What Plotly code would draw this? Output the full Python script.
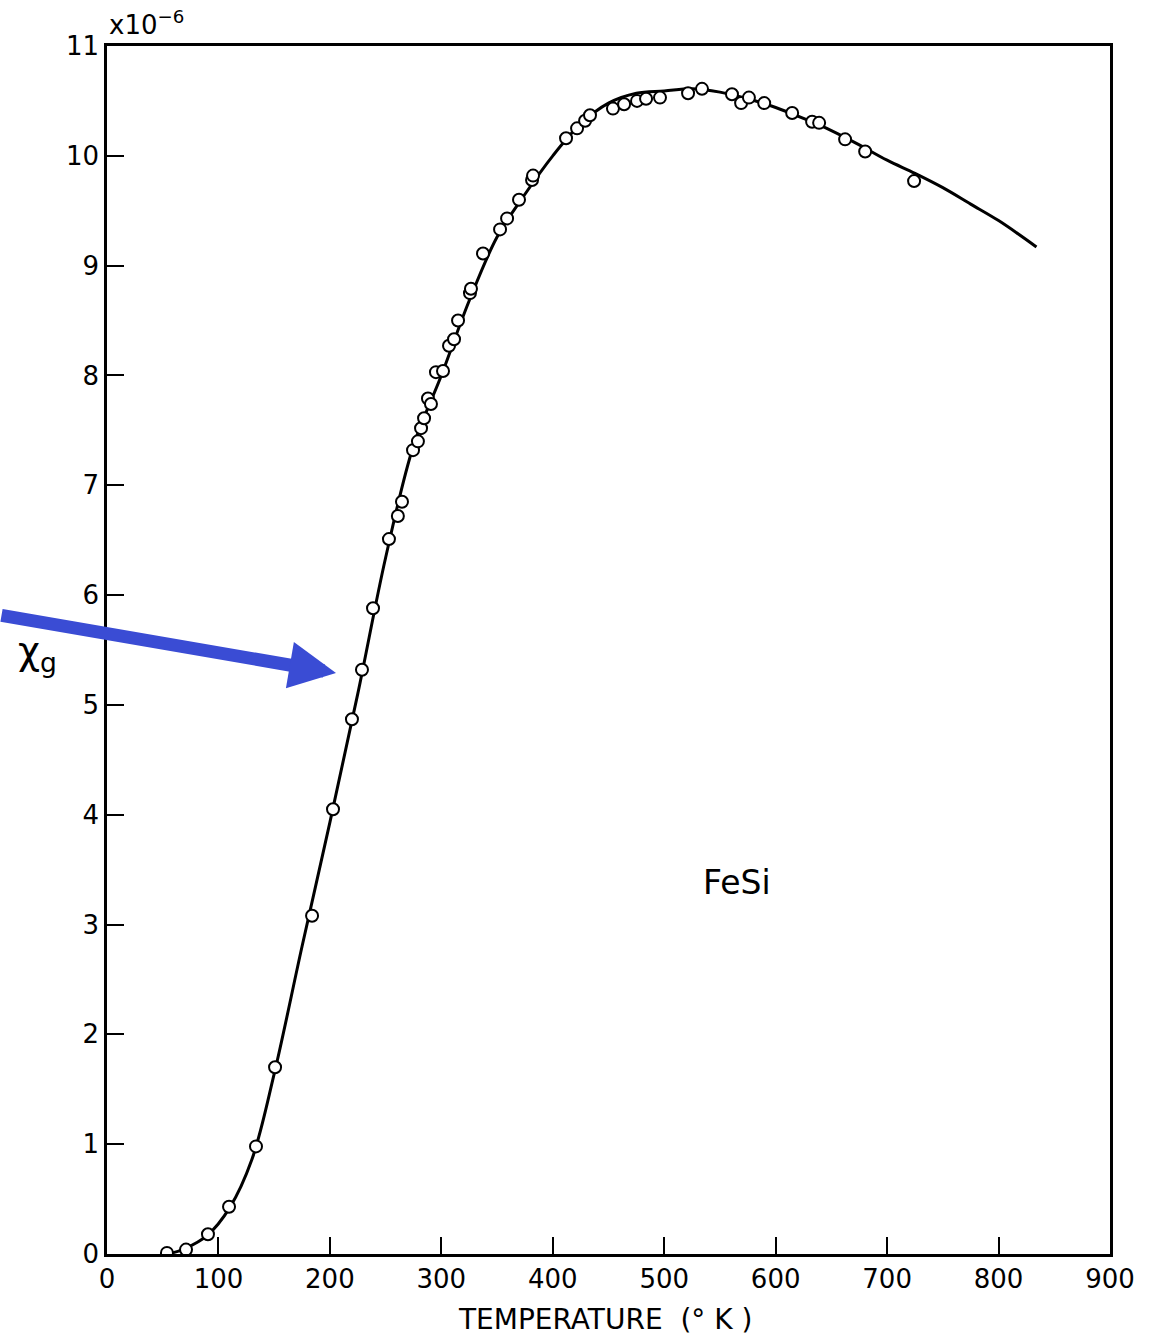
import plotly.graph_objects as go

# Measured data points (temperature in K, susceptibility in units of 1e-6)
temp_pts = [53.8, 70.9, 90.6, 109.5, 133.7, 150.8, 184.0, 202.8, 219.8, 228.8,
            238.7, 253.0, 261.0, 264.7, 274.6, 279.0, 281.8, 284.5, 288.0, 290.7,
            295.2, 301.5, 306.9, 311.4, 315.0, 325.7, 326.6, 337.4, 352.7, 359.0,
            369.7, 381.4, 382.3, 411.9, 421.8, 429.0, 433.4, 454.0, 464.0, 475.6,
            483.7, 496.2, 521.4, 533.9, 560.8, 569.0, 576.0, 589.7, 614.8, 632.7,
            639.0, 662.3, 680.3, 724.2]
chi_pts = [0.01, 0.04, 0.18, 0.43, 0.98, 1.70, 3.08, 4.05, 4.87, 5.32,
           5.88, 6.51, 6.72, 6.85, 7.32, 7.40, 7.52, 7.61, 7.79, 7.74,
           8.03, 8.04, 8.27, 8.33, 8.50, 8.75, 8.79, 9.11, 9.33, 9.43,
           9.60, 9.78, 9.82, 10.16, 10.25, 10.32, 10.37, 10.43, 10.47, 10.50,
           10.52, 10.53, 10.57, 10.61, 10.56, 10.48, 10.53, 10.48, 10.39, 10.31,
           10.30, 10.15, 10.04, 9.77]

# Smooth fitted curve
temp_curve = [55, 70, 90, 110, 130, 150, 175, 200, 225, 250, 275, 300, 325, 350,
              375, 400, 425, 450, 475, 500, 525, 550, 575, 600, 625, 650, 675,
              700, 725, 750, 775, 800, 834]
chi_curve = [0.0, 0.05, 0.17, 0.42, 0.86, 1.64, 2.80, 3.93, 5.10, 6.34, 7.36,
             8.00, 8.68, 9.26, 9.65, 10.00, 10.29, 10.48, 10.57, 10.59, 10.61,
             10.58, 10.52, 10.44, 10.34, 10.23, 10.10, 9.96, 9.84, 9.71, 9.56,
             9.41, 9.17]

x_ticks = [0, 100, 200, 300, 400, 500, 600, 700, 800, 900]
y_ticks = [0, 1, 2, 3, 4, 5, 6, 7, 8, 9, 10, 11]

FONT = "DejaVu Sans"

fig = go.Figure()
fig.add_trace(go.Scatter(
    x=temp_curve, y=chi_curve, mode="lines",
    line=dict(color="black", width=3, shape="spline", smoothing=1.0),
    hoverinfo="skip", showlegend=False))
fig.add_trace(go.Scatter(
    x=temp_pts, y=chi_pts, mode="markers",
    marker=dict(symbol="circle", size=12, color="white",
                line=dict(color="black", width=2)),
    showlegend=False))

axis_common = dict(showgrid=False, zeroline=False, showline=True,
                   linecolor="black", linewidth=2.5, mirror=True,
                   ticks="inside", ticklen=17, tickwidth=2, tickcolor="black",
                   tickfont=dict(family=FONT, size=26, color="black"))

fig.update_xaxes(range=[0, 900], tickvals=x_ticks,
                 ticktext=[str(v) for v in x_ticks], **axis_common)
fig.update_yaxes(range=[0, 11], tickvals=y_ticks,
                 ticktext=[str(v) for v in y_ticks], **axis_common)

fig.update_layout(
    width=1151, height=1337,
    margin=dict(l=107, r=41, t=46, b=83),
    paper_bgcolor="white", plot_bgcolor="white",
    font=dict(family=FONT, color="black"),
    annotations=[
        dict(text="TEMPERATURE  (° K )", xref="paper", yref="paper",
             x=0.4965, y=-0.0546, xanchor="center", yanchor="middle",
             showarrow=False, font=dict(family=FONT, size=28, color="black")),
        dict(text="FeSi", xref="x", yref="y", x=565, y=3.38,
             xanchor="center", yanchor="middle", showarrow=False,
             font=dict(family=FONT, size=33, color="black")),
        dict(text="χ<sub>g</sub>", xref="paper", yref="paper",
             x=-0.069, y=0.497, xanchor="center", yanchor="middle",
             showarrow=False, font=dict(family=FONT, size=38, color="black")),
        dict(text="x10<sup>−6</sup>", xref="paper", yref="paper",
             x=0.0, y=1.003, xanchor="left", yanchor="bottom",
             showarrow=False, font=dict(family=FONT, size=26, color="black")),
        dict(text="", xref="x", yref="y", x=205.5, y=5.29,
             ax=-345, ay=-58, axref="pixel", ayref="pixel",
             showarrow=True, arrowhead=2, arrowsize=0.72, arrowwidth=13,
             arrowcolor="#3A4CD4", standoff=0),
    ],
)

fig.write_html("out.html")
